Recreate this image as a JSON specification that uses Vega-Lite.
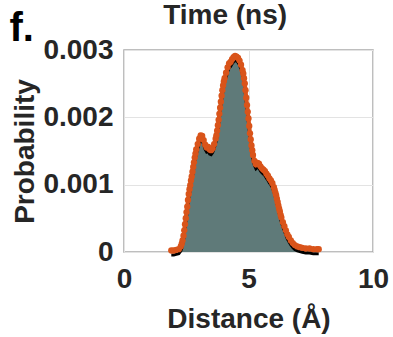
{
  "$schema": "https://vega.github.io/schema/vega-lite/v6.json",
  "autosize": "none",
  "width": 249,
  "height": 202,
  "padding": {"left": 124, "top": 50, "right": 20, "bottom": 85},
  "background": "white",
  "config": {
    "font": "Liberation Sans",
    "view": {"stroke": "#a9a9a9", "strokeWidth": 1.5},
    "axis": {
      "labelFont": "Liberation Sans", "titleFont": "Liberation Sans",
      "labelFontWeight": "bold", "titleFontWeight": "bold",
      "labelColor": "#262626", "titleColor": "#262626",
      "labelFontSize": 28, "titleFontSize": 28,
      "domain": false, "ticks": false,
      "gridColor": "#e3e3e3", "gridWidth": 1
    }
  },
  "datasets": {
    "curve": [
      {"dist": 1.90, "prob": 0.00000},
      {"dist": 2.00, "prob": 0.00000},
      {"dist": 2.10, "prob": 0.00001},
      {"dist": 2.20, "prob": 0.00002},
      {"dist": 2.28, "prob": 0.00006},
      {"dist": 2.32, "prob": 0.00010},
      {"dist": 2.35, "prob": 0.00015},
      {"dist": 2.39, "prob": 0.00022},
      {"dist": 2.42, "prob": 0.00030},
      {"dist": 2.45, "prob": 0.00039},
      {"dist": 2.48, "prob": 0.00048},
      {"dist": 2.51, "prob": 0.00057},
      {"dist": 2.54, "prob": 0.00065},
      {"dist": 2.57, "prob": 0.00075},
      {"dist": 2.60, "prob": 0.00084},
      {"dist": 2.63, "prob": 0.00091},
      {"dist": 2.66, "prob": 0.00097},
      {"dist": 2.69, "prob": 0.00104},
      {"dist": 2.72, "prob": 0.00110},
      {"dist": 2.75, "prob": 0.00117},
      {"dist": 2.78, "prob": 0.00124},
      {"dist": 2.81, "prob": 0.00131},
      {"dist": 2.84, "prob": 0.00138},
      {"dist": 2.87, "prob": 0.00144},
      {"dist": 2.90, "prob": 0.00150},
      {"dist": 2.96, "prob": 0.00158},
      {"dist": 3.02, "prob": 0.00166},
      {"dist": 3.08, "prob": 0.00171},
      {"dist": 3.14, "prob": 0.00170},
      {"dist": 3.20, "prob": 0.00164},
      {"dist": 3.26, "prob": 0.00157},
      {"dist": 3.32, "prob": 0.00153},
      {"dist": 3.38, "prob": 0.00154},
      {"dist": 3.44, "prob": 0.00150},
      {"dist": 3.50, "prob": 0.00149},
      {"dist": 3.56, "prob": 0.00152},
      {"dist": 3.62, "prob": 0.00158},
      {"dist": 3.68, "prob": 0.00166},
      {"dist": 3.71, "prob": 0.00171},
      {"dist": 3.74, "prob": 0.00178},
      {"dist": 3.77, "prob": 0.00186},
      {"dist": 3.80, "prob": 0.00194},
      {"dist": 3.83, "prob": 0.00203},
      {"dist": 3.86, "prob": 0.00212},
      {"dist": 3.89, "prob": 0.00221},
      {"dist": 3.92, "prob": 0.00230},
      {"dist": 3.95, "prob": 0.00238},
      {"dist": 3.98, "prob": 0.00245},
      {"dist": 4.01, "prob": 0.00251},
      {"dist": 4.04, "prob": 0.00256},
      {"dist": 4.10, "prob": 0.00264},
      {"dist": 4.16, "prob": 0.00272},
      {"dist": 4.22, "prob": 0.00278},
      {"dist": 4.28, "prob": 0.00280},
      {"dist": 4.34, "prob": 0.00284},
      {"dist": 4.40, "prob": 0.00287},
      {"dist": 4.46, "prob": 0.00289},
      {"dist": 4.52, "prob": 0.00288},
      {"dist": 4.58, "prob": 0.00286},
      {"dist": 4.64, "prob": 0.00282},
      {"dist": 4.70, "prob": 0.00276},
      {"dist": 4.76, "prob": 0.00268},
      {"dist": 4.79, "prob": 0.00263},
      {"dist": 4.82, "prob": 0.00256},
      {"dist": 4.85, "prob": 0.00248},
      {"dist": 4.88, "prob": 0.00238},
      {"dist": 4.91, "prob": 0.00227},
      {"dist": 4.94, "prob": 0.00216},
      {"dist": 4.97, "prob": 0.00206},
      {"dist": 5.00, "prob": 0.00196},
      {"dist": 5.03, "prob": 0.00185},
      {"dist": 5.06, "prob": 0.00174},
      {"dist": 5.09, "prob": 0.00165},
      {"dist": 5.12, "prob": 0.00156},
      {"dist": 5.15, "prob": 0.00149},
      {"dist": 5.18, "prob": 0.00142},
      {"dist": 5.24, "prob": 0.00133},
      {"dist": 5.30, "prob": 0.00128},
      {"dist": 5.36, "prob": 0.00130},
      {"dist": 5.42, "prob": 0.00129},
      {"dist": 5.48, "prob": 0.00125},
      {"dist": 5.54, "prob": 0.00122},
      {"dist": 5.60, "prob": 0.00120},
      {"dist": 5.66, "prob": 0.00118},
      {"dist": 5.72, "prob": 0.00114},
      {"dist": 5.78, "prob": 0.00111},
      {"dist": 5.84, "prob": 0.00107},
      {"dist": 5.90, "prob": 0.00104},
      {"dist": 5.96, "prob": 0.00100},
      {"dist": 6.02, "prob": 0.00094},
      {"dist": 6.05, "prob": 0.00090},
      {"dist": 6.08, "prob": 0.00086},
      {"dist": 6.11, "prob": 0.00082},
      {"dist": 6.14, "prob": 0.00077},
      {"dist": 6.17, "prob": 0.00072},
      {"dist": 6.20, "prob": 0.00067},
      {"dist": 6.23, "prob": 0.00062},
      {"dist": 6.26, "prob": 0.00058},
      {"dist": 6.29, "prob": 0.00053},
      {"dist": 6.32, "prob": 0.00049},
      {"dist": 6.38, "prob": 0.00042},
      {"dist": 6.44, "prob": 0.00036},
      {"dist": 6.50, "prob": 0.00030},
      {"dist": 6.56, "prob": 0.00024},
      {"dist": 6.62, "prob": 0.00020},
      {"dist": 6.70, "prob": 0.00015},
      {"dist": 6.78, "prob": 0.00011},
      {"dist": 6.86, "prob": 0.00008},
      {"dist": 6.96, "prob": 0.00006},
      {"dist": 7.06, "prob": 0.00005},
      {"dist": 7.16, "prob": 0.00004},
      {"dist": 7.30, "prob": 0.00003},
      {"dist": 7.45, "prob": 0.00003},
      {"dist": 7.60, "prob": 0.00002},
      {"dist": 7.75, "prob": 0.00002},
      {"dist": 7.82, "prob": 0.00002}
    ],
    "panel": [{"text": "f.", "x": -4.6, "y": 0.00313}],
    "heading": [{"text": "Time (ns)", "x": 4.06, "y": 0.00338}]
  },
  "layer": [
    {
      "data": {"name": "curve"},
      "mark": {"type": "area", "color": "#5f7a79", "interpolate": "linear"},
      "encoding": {
        "x": {
          "field": "dist", "type": "quantitative",
          "scale": {"domain": [0, 10], "nice": false},
          "axis": {"values": [0, 5, 10], "title": "Distance (Å)", "labelPadding": 13, "titlePadding": 12, "labelFlush": false}
        },
        "y": {
          "field": "prob", "type": "quantitative",
          "scale": {"domain": [0, 0.003], "nice": false},
          "axis": {"values": [0, 0.001, 0.002, 0.003], "title": "Probability", "labelPadding": 11, "titlePadding": 3,
                   "labelExpr": "datum.value == 0 ? '0' : format(datum.value, '.3f')"}
        }
      }
    },
    {
      "data": {"name": "curve"},
      "mark": {"type": "line", "color": "black", "strokeWidth": 3, "yOffset": 3},
      "encoding": {
        "x": {"field": "dist", "type": "quantitative"},
        "y": {"field": "prob", "type": "quantitative"}
      }
    },
    {
      "data": {"name": "curve"},
      "mark": {"type": "line", "color": "#d9541a", "strokeWidth": 4, "yOffset": -1.5},
      "encoding": {
        "x": {"field": "dist", "type": "quantitative"},
        "y": {"field": "prob", "type": "quantitative"}
      }
    },
    {
      "data": {"name": "curve"},
      "mark": {"type": "point", "filled": true, "color": "#d9541a", "size": 40, "opacity": 1, "yOffset": -1.5},
      "encoding": {
        "x": {"field": "dist", "type": "quantitative"},
        "y": {"field": "prob", "type": "quantitative"}
      }
    },
    {
      "data": {"name": "panel"},
      "mark": {"type": "text", "font": "Liberation Sans", "fontWeight": "bold", "fontSize": 40, "align": "left", "baseline": "alphabetic", "color": "black"},
      "encoding": {
        "x": {"field": "x", "type": "quantitative"},
        "y": {"field": "y", "type": "quantitative"},
        "text": {"field": "text"}
      }
    },
    {
      "data": {"name": "heading"},
      "mark": {"type": "text", "font": "Liberation Sans", "fontWeight": "bold", "fontSize": 28, "align": "center", "baseline": "alphabetic", "color": "#262626"},
      "encoding": {
        "x": {"field": "x", "type": "quantitative"},
        "y": {"field": "y", "type": "quantitative"},
        "text": {"field": "text"}
      }
    }
  ]
}
